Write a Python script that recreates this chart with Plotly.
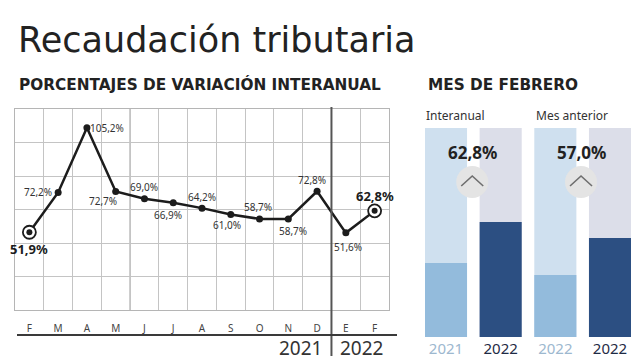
import plotly.graph_objects as go

# ---- data ----
months = ["F", "M", "A", "M", "J", "J", "A", "S", "O", "N", "D", "E", "F"]
variacion = [51.9, 72.2, 105.2, 72.7, 69.0, 66.9, 64.2, 61.0, 58.7, 58.7, 72.8, 51.6, 62.8]
labels = ["51,9%", "72,2%", "105,2%", "72,7%", "69,0%", "66,9%", "64,2%", "61,0%",
          "58,7%", "58,7%", "72,8%", "51,6%", "62,8%"]
years = ["2021", "2022"]

bar_years = ["2021", "2022", "2022", "2022"]
bar_values = [35.4, 55.0, 29.7, 47.4]          # relative heights (index, 100 = full column)
bar_background = [100, 100, 100, 100]
panel_titles = ["Interanual", "Mes anterior"]
panel_values = ["62,8%", "57,0%"]

W, H = 642, 361
def px(x): return x / W
def py(y): return 1 - y / H

DARK = "#1c1c1c"
TXT = "#333333"
FONT = "Noto Sans"

fig = go.Figure()

idx = list(range(len(months)))
fig.add_trace(go.Scatter(
    x=idx, y=variacion, mode="lines+markers",
    line=dict(color=DARK, width=2.5),
    marker=dict(color=DARK, size=7),
    xaxis="x", yaxis="y", showlegend=False, hoverinfo="skip"))
# highlighted end points
ends = [0, len(idx) - 1]
fig.add_trace(go.Scatter(
    x=ends, y=[variacion[i] for i in ends], mode="markers",
    marker=dict(color="white", size=13, line=dict(color=DARK, width=1.8)),
    xaxis="x", yaxis="y", showlegend=False, hoverinfo="skip"))
fig.add_trace(go.Scatter(
    x=ends, y=[variacion[i] for i in ends], mode="markers",
    marker=dict(color=DARK, size=6),
    xaxis="x", yaxis="y", showlegend=False, hoverinfo="skip"))

# label offsets (xshift, yshift, bold)
offs = [(0, -17, True), (-20, 0, False), (20, 0, False), (-13, -10, False),
        (0, 12, False), (-5, -12, False), (0, 11, False), (-4, -11, False),
        (-2, 12, False), (5, -12, False), (-5, 11, False), (2, -14, False),
        (0, 15, True)]
for i, (dx, dy, bold) in enumerate(offs):
    fig.add_annotation(
        x=idx[i], y=variacion[i], xref="x", yref="y",
        text=("<b>%s</b>" % labels[i]) if bold else labels[i],
        showarrow=False, xshift=dx, yshift=dy,
        font=dict(size=13 if bold else 10, color=DARK if bold else TXT, family=FONT))

# ---- right panel bars ----
bx = [0, 1, 2, 3]
fig.add_trace(go.Bar(
    x=bx, y=bar_background, width=0.77,
    marker=dict(color=["#cfe0ef", "#dcdee9", "#cfe0ef", "#dcdee9"], line=dict(width=0)),
    xaxis="x2", yaxis="y2", showlegend=False, hoverinfo="skip"))
fig.add_trace(go.Bar(
    x=bx, y=bar_values, width=0.77,
    marker=dict(color=["#93bbdc", "#2c4f82", "#93bbdc", "#2c4f82"], line=dict(width=0)),
    xaxis="x2", yaxis="y2", showlegend=False, hoverinfo="skip"))

year_cols = ["#9db8cf", "#1f2b45", "#9db8cf", "#1f2b45"]
ticktext2 = ['<span style="color:%s">%s</span>' % (c, t) for c, t in zip(year_cols, bar_years)]

fig.update_layout(
    width=W, height=H, margin=dict(l=0, r=0, t=0, b=0),
    paper_bgcolor="white", plot_bgcolor="white",
    barmode="overlay", font=dict(family=FONT, color=TXT),
    xaxis=dict(domain=[px(15), px(389)], range=[-0.5, 12.5],
               tickvals=idx, ticktext=months, showgrid=False, zeroline=False,
               tickfont=dict(size=10, color="#444"), ticks="", ticklabelstandoff=9,
               showline=True, mirror=True, linecolor="#b5b5b5", linewidth=1,
               minor=dict(tickvals=[i + 0.5 for i in idx[:-1]], showgrid=True,
                          gridcolor="#c4c4c4", gridwidth=1, ticks="")),
    yaxis=dict(domain=[py(310), py(109)], range=[12.3, 114.7],
               tick0=12.3, dtick=(114.7 - 12.3) / 6, showticklabels=False,
               showgrid=True, gridcolor="#c4c4c4", zeroline=False,
               showline=True, mirror=True, linecolor="#b5b5b5", linewidth=1),
    xaxis2=dict(domain=[px(425), px(631)], range=[-0.384, 3.384],
                tickvals=bx, ticktext=ticktext2, showgrid=False, zeroline=False,
                tickfont=dict(size=15, family=FONT), ticks="", ticklabelstandoff=1),
    yaxis2=dict(domain=[py(337), py(128)], range=[0, 100], showticklabels=False,
                showgrid=False, zeroline=False, anchor="x2"),
)
fig.update_layout(xaxis2_anchor="y2")

shapes = []
# darker quarter gridline
shapes.append(dict(type="line", xref="x", yref="paper", x0=3.5, x1=3.5,
                   y0=py(310), y1=py(109), line=dict(color="#8a8a8a", width=1), layer="below"))
# divider 2021 | 2022
shapes.append(dict(type="line", xref="x", yref="paper", x0=10.5, x1=10.5,
                   y0=py(356), y1=py(107), line=dict(color="#555555", width=2)))
# line under months
shapes.append(dict(type="line", xref="paper", yref="paper", x0=px(17), x1=px(397),
                   y0=py(335), y1=py(335), line=dict(color="#3a3a3a", width=2)))
# circles with chevrons
for cx in [0.48, 2.47]:
    shapes.append(dict(type="circle", xref="x2", yref="paper", xsizemode="pixel",
                       ysizemode="pixel", xanchor=cx, yanchor=py(182),
                       x0=-16, x1=16, y0=-16, y1=16,
                       fillcolor="#e4e4e4", line=dict(width=0)))
    shapes.append(dict(type="path", xref="x2", yref="paper", xsizemode="pixel",
                       ysizemode="pixel", xanchor=cx, yanchor=py(182),
                       path="M -11,-4 L 0,6 L 11,-4", line=dict(color="#6e6e6e", width=1.6)))
fig.update_layout(shapes=shapes)

# texts
fig.add_annotation(text="Recaudación tributaria", xref="paper", yref="paper",
                   x=px(16), y=py(40), xanchor="left", yanchor="middle", showarrow=False,
                   font=dict(size=35, color="#222", family="DejaVu Sans"))
fig.add_annotation(text="<b>PORCENTAJES DE VARIACIÓN INTERANUAL</b>", xref="paper", yref="paper",
                   x=px(17), y=py(85), xanchor="left", yanchor="middle", showarrow=False,
                   font=dict(size=15.3, color="#222", family="DejaVu Sans"))
fig.add_annotation(text="<b>MES DE FEBRERO</b>", xref="paper", yref="paper",
                   x=px(426), y=py(85), xanchor="left", yanchor="middle", showarrow=False,
                   font=dict(size=15.3, color="#222", family="DejaVu Sans"))
for xx, t in zip([424, 534], panel_titles):
    fig.add_annotation(text=t, xref="paper", yref="paper", x=px(xx), y=py(115),
                       xanchor="left", yanchor="middle", showarrow=False,
                       font=dict(size=12, color=TXT, family=FONT))
for cx, t in zip([0.48, 2.48], panel_values):
    fig.add_annotation(text="<b>%s</b>" % t, xref="x2", yref="paper", x=cx, y=py(153),
                       xanchor="center", yanchor="middle", showarrow=False,
                       font=dict(size=17, color="#222", family=FONT))
for xx, t in zip([300, 362], years):
    fig.add_annotation(text=t, xref="paper", yref="paper", x=px(xx), y=py(348),
                       xanchor="center", yanchor="middle", showarrow=False,
                       font=dict(size=19, color=TXT, family=FONT))

fig.write_html("out.html", config={"displayModeBar": False},
               post_script="document.body.style.margin='0';")
